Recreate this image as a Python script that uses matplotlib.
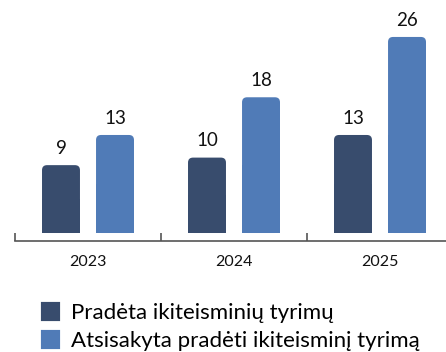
import numpy as np
import matplotlib.pyplot as plt
from matplotlib.patches import FancyBboxPatch, Rectangle, Patch

plt.rcParams['font.family'] = ['Lato', 'DejaVu Sans']

years = ['2023', '2024', '2025']
started = [9, 10, 13]
refused = [13, 18, 26]
series_names = ['Pradėta ikiteisminių tyrimų',
                'Atsisakyta pradėti ikiteisminį tyrimą']
colors = ['#384c6d', '#507bb7']

fig = plt.figure(figsize=(4.46, 3.52), dpi=100)
W, H = 446, 352
ax = fig.add_axes([15 / W, 111 / H, 431 / W, 241 / H])

ax.set_xlim(-0.5, 2.452)
ax.set_ylim(-1.06, 30.9)

offset = 0.185
width = 0.26
# one x unit is 146 px, one y unit about 7.54 px
aspect = 146 / 7.54
radius = 5 / 146

x = np.arange(len(years))
for vals, dx, col in [(started, -offset, colors[0]), (refused, offset, colors[1])]:
    for xi, v in zip(x, vals):
        x0 = xi + dx - width / 2
        ax.add_patch(FancyBboxPatch((x0, 0), width, v,
                                    boxstyle=f'round,pad=0,rounding_size={radius}',
                                    mutation_aspect=aspect, fc=col, ec='none'))
        # square off the bottom corners
        ax.add_patch(Rectangle((x0, 0), width, v / 2, fc=col, ec='none'))
        ax.annotate(str(v), (xi + dx, v), xytext=(0, 8), textcoords='offset points',
                    ha='center', va='baseline', fontsize=13.5, color='#111111')

for s in ['top', 'right', 'left']:
    ax.spines[s].set_visible(False)
ax.spines['bottom'].set_color('#555555')
ax.spines['bottom'].set_linewidth(1.2)
ax.set_yticks([])

ax.set_xticks([-0.5, 0.5, 1.5])
ax.set_xticklabels([])
ax.tick_params(axis='x', which='major', direction='in', length=6, width=1.2, color='#555555')
ax.set_xticks(x, minor=True)
ax.set_xticklabels(years, minor=True)
ax.tick_params(axis='x', which='minor', length=0, pad=10, labelsize=11.5, labelcolor='#111111')

handles = [Patch(fc=c, ec=c, lw=3, joinstyle='round') for c in colors]
fig.legend(handles, series_names, loc='upper left', bbox_to_anchor=(43 / W, 1 - 303 / H),
           frameon=False, fontsize=16, handlelength=0.68, handleheight=0.68,
           handletextpad=0.6, labelspacing=0.38, borderpad=0, borderaxespad=0)

fig.savefig('out.png', dpi=100)
